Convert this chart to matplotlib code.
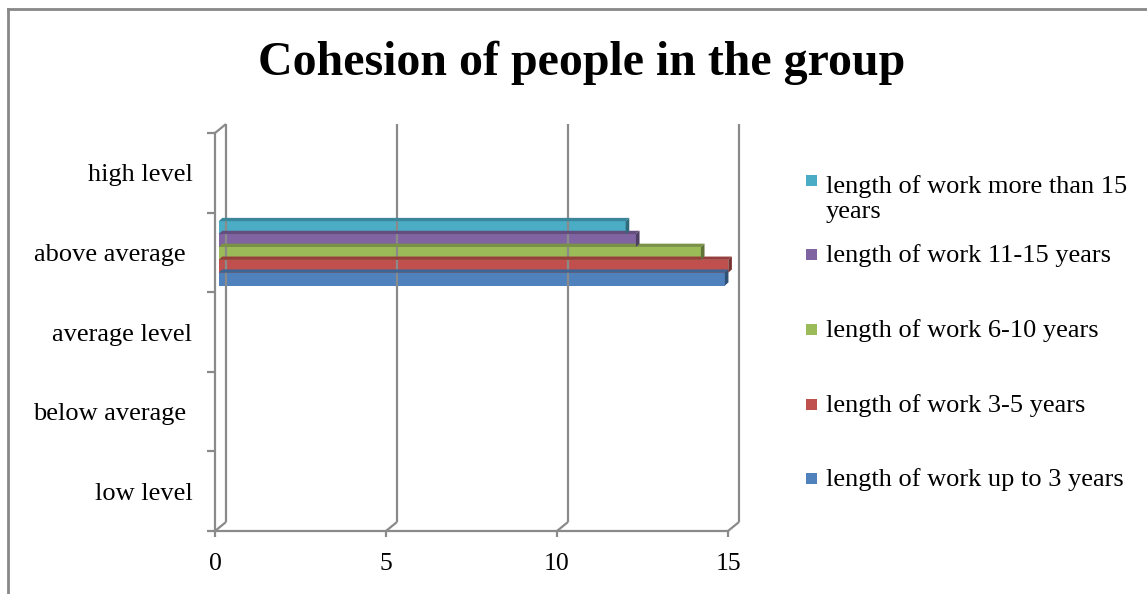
import matplotlib
matplotlib.use("Agg")
import numpy as np
import matplotlib.pyplot as plt
from matplotlib.lines import Line2D
from matplotlib.patches import Polygon, Rectangle
from matplotlib.transforms import IdentityTransform, ScaledTranslation
from matplotlib.colors import to_rgb

plt.rcParams["font.family"] = ["Liberation Serif", "DejaVu Serif"]

# ---- data -------------------------------------------------------------
categories = ["low level", "below average ", "average level", "above average ", "high level"]
series_names = [
    "length of work up to 3 years",
    "length of work 3-5 years",
    "length of work 6-10 years",
    "length of work 11-15 years",
    "length of work more than 15\nyears",
]
up_to_3 = [0, 0, 0, 14.8, 0]
years_3_5 = [0, 0, 0, 14.9, 0]
years_6_10 = [0, 0, 0, 14.1, 0]
years_11_15 = [0, 0, 0, 12.2, 0]
more_than_15 = [0, 0, 0, 11.9, 0]
x_ticks = [0, 5, 10, 15]
title = "Cohesion of people in the group"

series_values = [up_to_3, years_3_5, years_6_10, years_11_15, more_than_15]
colors = ["#4F81BD", "#C0504D", "#9BBB59", "#8064A2", "#4BACC6"]

# ---- figure / axes ----------------------------------------------------
W, H = 1147, 594
fig = plt.figure(figsize=(W / 100, H / 100), dpi=100)
fig.patch.set_facecolor("white")

ax = fig.add_axes([215 / W, (H - 531) / H, 513 / W, 398 / H])
ax.set_xlim(0, 15)
ax.set_ylim(-0.5, 4.5)
ax.patch.set_visible(False)

GRID = "#8a8a8a"
LW = 1.6
DEPTH = np.array([11.0, 9.0])        # pixel shift from front plane to back wall


def disp(x, y, d=0.0, extra=(0.0, 0.0)):
    p = ax.transData.transform((x, y))
    return p + d * DEPTH + np.asarray(extra)


def seg(p, q, z=1):
    fig.add_artist(Line2D([p[0], q[0]], [p[1], q[1]], transform=IdentityTransform(),
                          color=GRID, lw=LW, solid_capstyle="butt", zorder=z))


# back wall gridlines and floor diagonals
for xv in x_ticks:
    seg(disp(xv, -0.5, 1), disp(xv, 4.5, 1))
    seg(disp(xv, -0.5, 0), disp(xv, -0.5, 1))
# top edge of the side wall
seg(disp(0, 4.5, 0), disp(0, 4.5, 1))

# spines / ticks on the front plane
for side in ("top", "right"):
    ax.spines[side].set_visible(False)
for side in ("left", "bottom"):
    ax.spines[side].set_color(GRID)
    ax.spines[side].set_linewidth(LW)

ax.set_xticks(x_ticks)
ax.set_xticklabels([str(t) for t in x_ticks], fontsize=18.5)
ax.tick_params(axis="x", direction="out", length=4, width=LW, color=GRID, pad=11.5)

ax.set_yticks(range(len(categories)))
ax.set_yticklabels(categories, fontsize=19)
ax.set_yticks(np.arange(-0.5, len(categories), 1.0), minor=True)
ax.tick_params(axis="y", which="major", length=0, pad=16.2)
ax.tick_params(axis="y", which="minor", direction="out", length=6, width=LW, color=GRID)

# ---- 3-D bars ----------------------------------------------------------
bar_h = 0.162
front = np.array([3.7, -1.0])
back = front + np.array([3.6, 3.3])


def shade(c, k):
    r, g, b = to_rgb(c)
    return (r * k, g * k, b * k)


n = len(series_values)
z = 3
for i, (vals, col) in enumerate(zip(series_values, colors)):
    offs = (i - (n - 1) / 2) * bar_h
    for cat, v in enumerate(vals):
        if v <= 0:
            continue
        y0 = cat + offs - bar_h / 2
        y1 = y0 + bar_h
        top = [disp(0, y1, extra=front), disp(v, y1, extra=front),
               disp(v, y1, extra=back), disp(0, y1, extra=back)]
        side = [disp(v, y0, extra=front), disp(v, y1, extra=front),
                disp(v, y1, extra=back), disp(v, y0, extra=back)]
        fig.add_artist(Polygon(top, closed=True, transform=IdentityTransform(),
                               facecolor=shade(col, 0.78), edgecolor="none", zorder=z))
        fig.add_artist(Polygon(side, closed=True, transform=IdentityTransform(),
                               facecolor=shade(col, 0.62), edgecolor="none", zorder=z))
    shift = ScaledTranslation(front[0] / 100, front[1] / 100, fig.dpi_scale_trans)
    bars = ax.barh(np.arange(len(vals)) + offs, vals, height=bar_h, color=col,
                   transform=ax.transData + shift, zorder=z + 1, clip_on=False)
    z += 2

# ---- title -------------------------------------------------------------
fig.text(582 / W, 1 - 75 / H, title, ha="center", va="baseline",
         fontsize=34.5, fontweight="bold")

# ---- legend ------------------------------------------------------------
# baseline of the first line of each entry (pixels from the top)
legend_base = [486, 412, 337, 262, 188]
line_gap = 30
for name, col, yb in zip(series_names, colors, legend_base):
    extra_lines = name.count("\n")
    fig.text(826 / W, 1 - (yb + extra_lines * line_gap) / H, name, ha="left",
             va="baseline", fontsize=19, linespacing=1.2)
    fig.add_artist(Rectangle((806 / W, 1 - (yb - 2) / H), 11 / W, 11 / H,
                             transform=fig.transFigure, facecolor=col,
                             edgecolor="none"))

# ---- outer frame ---------------------------------------------------------
fig.add_artist(Line2D([8 / W, 8 / W], [0, 1 - 9 / H], transform=fig.transFigure,
                      color="#888888", lw=2))
fig.add_artist(Line2D([8 / W, 1], [1 - 9 / H, 1 - 9 / H], transform=fig.transFigure,
                      color="#888888", lw=2))

fig.savefig("out.png", dpi=100)
